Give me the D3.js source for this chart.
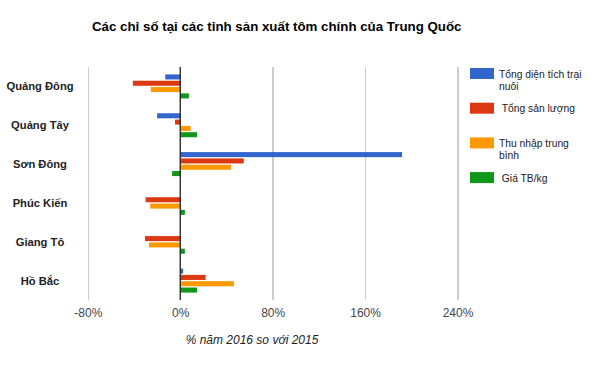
<!DOCTYPE html>
<html><head><meta charset="utf-8">
<script src="https://cdn.jsdelivr.net/npm/d3@7"></script>
<style>
html,body{margin:0;padding:0;background:#fff;}
svg{display:block;font-family:Arial,"Liberation Sans",sans-serif;}
</style></head>
<body>
<svg id="chart" width="597" height="378"></svg>
<script>
const title = "Các chỉ số tại các tỉnh sản xuất tôm chính của Trung Quốc";
const axisTitle = "% năm 2016 so với 2015";
const categories = ["Quảng Đông","Quảng Tây","Sơn Đông","Phúc Kiến","Giang Tô","Hồ Bắc"];
const seriesNames = ["Tổng diện tích trại nuôi","Tổng sản lượng","Thu nhập trung bình","Giá TB/kg"];
const legendLines = [["Tổng diện tích trại","nuôi"],[" Tổng sản lượng"],["Thu nhập trung","bình"],[" Giá TB/kg"]];
const seriesColors = ["#3366cc","#dc3912","#ff9900","#109618"];
const areaValues = [-13, -20, 192, null, null, 2.5];
const outputValues = [-41, -4.5, 55, -30, -30.5, 22];
const incomeValues = [-25.5, 9, 44, -26, -27, 46.5];
const priceValues = [7.5, 14.5, -7, 4, 4, 14.5];
const tickValues = [-80, 0, 80, 160, 240];
const tickLabels = ["-80%","0%","80%","160%","240%"];

const series = [areaValues, outputValues, incomeValues, priceValues];
const svg = d3.select("#chart");

const plot = {left: 87.8, right: 457.5, top: 67, bottom: 300};
const x = d3.scaleLinear().domain([-80, 240]).range([plot.left, plot.right]);
const y = d3.scaleBand().domain(categories).range([plot.top, plot.bottom]).padding(0);
const groupW = 24;
const sub = d3.scaleBand().domain(d3.range(series.length)).range([0, groupW]).paddingInner(0.2).paddingOuter(0);

// title
svg.append("text").attr("x", 92).attr("y", 31)
  .attr("font-size", 13.3).attr("font-weight", "bold").attr("fill", "#000").text(title);

// gridlines
const xAxis = d3.axisBottom(x).tickValues(tickValues).tickSize(-(plot.bottom - plot.top))
  .tickFormat((d, i) => tickLabels[i]).tickPadding(0);
const gAx = svg.append("g").attr("transform", `translate(0,${plot.bottom})`).call(xAxis);
gAx.select(".domain").remove();
gAx.selectAll(".tick line").attr("stroke", "#cccccc").attr("stroke-width", 1.5)
  .attr("shape-rendering", "crispEdges");
gAx.selectAll(".tick text").attr("font-size", 12).attr("fill", "#444")
  .attr("font-family", "Arial, 'Liberation Sans', sans-serif").attr("dy", 0).attr("y", 17);

// bars
series.forEach((vals, si) => {
  svg.append("g").selectAll("rect")
    .data(categories.map((c, i) => ({c, v: vals[i]})).filter(d => d.v !== null))
    .join("rect")
    .attr("x", d => x(Math.min(0, d.v)))
    .attr("width", d => Math.abs(x(d.v) - x(0)))
    .attr("y", d => y(d.c) + (y.bandwidth() - groupW) / 2 + sub(si))
    .attr("height", sub.bandwidth())
    .attr("fill", seriesColors[si]);
});

// zero line
svg.append("line").attr("x1", x(0)).attr("x2", x(0)).attr("y1", plot.top).attr("y2", plot.bottom)
  .attr("stroke", "#222").attr("stroke-width", 1.3);

// category labels
svg.append("g").selectAll("text").data(categories).join("text")
  .attr("x", 40).attr("y", d => y(d) + y.bandwidth() / 2).attr("dy", "0.35em")
  .attr("text-anchor", "middle").attr("font-size", 11.2).attr("font-weight", "bold")
  .attr("fill", "#222").text(d => d);

// axis title
svg.append("text").attr("x", 252).attr("y", 344).attr("text-anchor", "middle")
  .attr("font-size", 12).attr("font-style", "italic").attr("fill", "#222").text(axisTitle);

// legend
const leg = svg.append("g");
seriesNames.forEach((name, i) => {
  const ly = 68 + i * 34.7;
  leg.append("rect").attr("x", 470).attr("y", ly).attr("width", 24).attr("height", 11)
    .attr("fill", seriesColors[i]);
  const t = leg.append("text").attr("x", 499).attr("y", ly + 9.5)
    .attr("font-size", 10.3).attr("fill", "#222").attr("xml:space", "preserve")
    .style("white-space", "pre");
  legendLines[i].forEach((ln, j) => {
    t.append("tspan").attr("x", 499).attr("dy", j === 0 ? 0 : 12.5).text(ln);
  });
});
</script>
</body></html>
